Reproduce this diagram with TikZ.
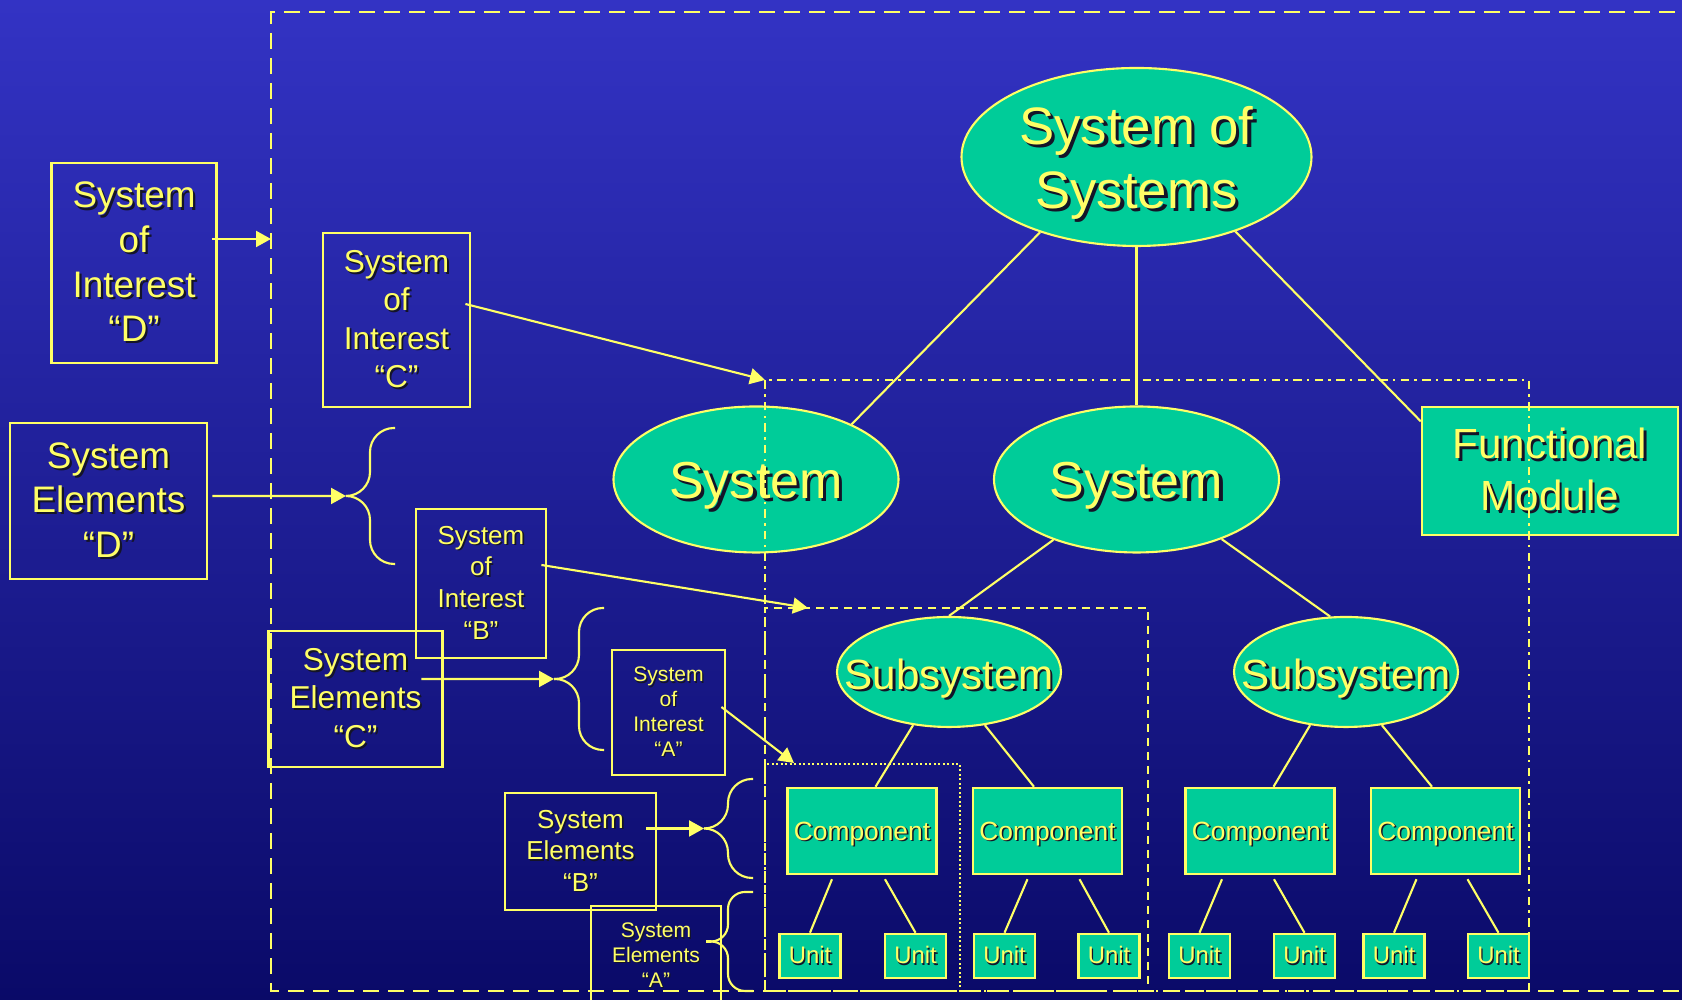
\documentclass[tikz,border=0pt]{standalone}
\usepackage{fontspec}
\setmainfont{Liberation Sans}
\usetikzlibrary{shapes.geometric,arrows.meta}

\definecolor{bgtop}{RGB}{51,51,196}
\definecolor{bgbottom}{RGB}{10,10,104}
\definecolor{leaf}{RGB}{0,204,153}
\definecolor{chalk}{RGB}{255,255,102}
\definecolor{dropc}{RGB}{20,20,40}

% text with a small dark drop shadow
\newcommand\shd[1]{\rlap{\kern.06em\raisebox{-.06em}{\color{dropc}#1}}#1}

\tikzset{
  bubble/.style={ % green ellipse of a system level
    ellipse, draw=chalk, line width=0.6pt, fill=leaf, inner sep=0pt
  },
  capt/.style={ % caption laid over a bubble
    align=center, text=chalk, inner sep=0pt, yshift=-0.75mm
  },
  block/.style={ % green box: module, component, unit
    rectangle, draw=chalk, line width=0.7pt, fill=leaf,
    inner sep=0pt, text=chalk, align=center
  },
  tag/.style={ % open yellow frame holding a caption
    rectangle, draw=chalk, line width=0.8pt,
    inner sep=0pt, text=chalk, align=center
  },
  tagD/.style={tag, font={\fontsize{10.5}{12.7}\selectfont}},
  tagC/.style={tag, font={\fontsize{9}{10.9}\selectfont}},
  tagB/.style={tag, font={\fontsize{7.4}{9}\selectfont}},
  tagA/.style={tag, font={\fontsize{6}{7.1}\selectfont}},
  compbox/.style={block, minimum width=1.49cm, minimum height=0.86cm,
    text depth=0pt, font={\fontsize{7.5}{9}\selectfont}},
  unitbox/.style={block, minimum width=0.61cm, minimum height=0.44cm,
    font={\fontsize{6.8}{8}\selectfont}},
  link/.style={draw=chalk, line width=0.6pt},
  pointer/.style={link, -{Triangle[length=1.5mm,width=1.6mm]}},
  grp/.style={link, rounded corners=2.4mm}, % one half of a curly brace
  outerzone/.style={draw=chalk, line width=0.6pt, dash pattern=on 1.6mm off 0.9mm},
  syszone/.style={draw=chalk, line width=0.6pt,
    dash pattern=on 0.85mm off 0.5mm on 0.25mm off 0.55mm},
  subzone/.style={draw=chalk, line width=0.6pt, dash pattern=on 0.8mm off 0.6mm},
  compzone/.style={draw=chalk, line width=0.6pt, dash pattern=on 0.2mm off 0.25mm}
}

\begin{document}
\begin{tikzpicture}
  \useasboundingbox (0,0) rectangle (16.82,10);
  \clip (0,0) rectangle (16.82,10);
  \shade[top color=bgtop, bottom color=bgbottom] (0,0) rectangle (16.82,10);

  % the tree
  \node[bubble, minimum width=3.5cm, minimum height=1.78cm,
    label={[capt, font={\fontsize{15}{18.2}\selectfont}]center:{\shd{System of}\\\shd{Systems}}}]
    (sos) at (11.365,8.43) {};
  \node[bubble, minimum width=2.85cm, minimum height=1.46cm,
    label={[capt, font={\fontsize{14.8}{17}\selectfont}]center:\shd{System}}]
    (sysA) at (7.56,5.205) {};
  \node[bubble, minimum width=2.85cm, minimum height=1.46cm,
    label={[capt, font={\fontsize{14.8}{17}\selectfont}]center:\shd{System}}]
    (sysB) at (11.365,5.205) {};
  \node[block, minimum width=2.56cm, minimum height=1.28cm,
    font={\fontsize{12}{14.7}\selectfont}] (fm) at (15.50,5.29) {\shd{Functional}\\\shd{Module}};
  \node[bubble, minimum width=2.24cm, minimum height=1.10cm,
    label={[capt, font={\fontsize{12}{14}\selectfont}]center:\shd{Subsystem}}]
    (subA) at (9.49,3.28) {};
  \node[bubble, minimum width=2.24cm, minimum height=1.10cm,
    label={[capt, font={\fontsize{12}{14}\selectfont}]center:\shd{Subsystem}}]
    (subB) at (13.46,3.28) {};

  \node[compbox] (comA) at (8.62,1.69) {\shd{Component}};
  \node[compbox] (comB) at (10.475,1.69) {\shd{Component}};
  \node[compbox] (comC) at (12.60,1.69) {\shd{Component}};
  \node[compbox] (comD) at (14.455,1.69) {\shd{Component}};

  \node[unitbox] (unA) at (8.10,0.44) {\shd{Unit}};
  \node[unitbox] (unB) at (9.155,0.44) {\shd{Unit}};
  \node[unitbox] (unC) at (10.045,0.44) {\shd{Unit}};
  \node[unitbox] (unD) at (11.09,0.44) {\shd{Unit}};
  \node[unitbox] (unE) at (11.995,0.44) {\shd{Unit}};
  \node[unitbox] (unF) at (13.045,0.44) {\shd{Unit}};
  \node[unitbox] (unG) at (13.94,0.44) {\shd{Unit}};
  \node[unitbox] (unH) at (14.985,0.44) {\shd{Unit}};

  \draw[link] (sos.218) -- (sysA.30);
  \draw[link] (sos.south) -- (sysB.north);
  \draw[link] (sos.323) -- (fm.159);
  \draw[link] (sysB.216) -- (subA.north);
  \draw[link] (sysB.325) -- (subB.106);
  \draw[link] (subA.236) -- (comA.73);
  \draw[link] (subA.304) -- (comB.107);
  \draw[link] (subB.236) -- (comC.73);
  \draw[link] (subB.304) -- (comD.107);
  \draw[link] ([xshift=-3mm,yshift=-.4mm]comA.south) -- (unA.north);
  \draw[link] ([xshift=2.3mm,yshift=-.4mm]comA.south) -- (unB.north);
  \draw[link] ([xshift=-2mm,yshift=-.4mm]comB.south) -- (unC.north);
  \draw[link] ([xshift=3.2mm,yshift=-.4mm]comB.south) -- (unD.north);
  \draw[link] ([xshift=-3.8mm,yshift=-.4mm]comC.south) -- (unE.north);
  \draw[link] ([xshift=1.4mm,yshift=-.4mm]comC.south) -- (unF.north);
  \draw[link] ([xshift=-2.9mm,yshift=-.4mm]comD.south) -- (unG.north);
  \draw[link] ([xshift=2.2mm,yshift=-.4mm]comD.south) -- (unH.north);

  % nested boundaries
  \draw[outerzone] (17,9.88) -| (2.71,0.09) -- (17,0.09);
  \draw[syszone] (7.65,0.09) rectangle (15.29,6.20);
  \draw[subzone] (7.65,0.09) rectangle (11.48,3.92);
  \draw[compzone] (7.65,0.09) rectangle (9.60,2.36);

  \coordinate (outerW) at (2.71,7.61);
  \coordinate (sysNW) at (7.65,6.20);
  \coordinate (subN) at (8.08,3.92);
  \coordinate (compN) at (7.94,2.37);
  \coordinate (tipD) at (3.46,5.04);
  \coordinate (tipC) at (5.54,3.21);
  \coordinate (tipB) at (7.04,1.715);
  \coordinate (tipA) at (7.11,0.585);

  % braces, drawn in halves
  \draw[grp] (3.95,5.72) -| (3.70,5.04) -- (tipD);
  \draw[grp] (3.95,4.36) -| (3.70,5.04) -- (tipD);
  \draw[grp] (6.04,3.92) -| (5.79,3.21) -- (tipC);
  \draw[grp] (6.04,2.50) -| (5.79,3.21) -- (tipC);
  \draw[grp] (7.53,2.21) -| (7.28,1.715) -- (tipB);
  \draw[grp] (7.53,1.22) -| (7.28,1.715) -- (tipB);
  \draw[grp, rounded corners=1.7mm] (7.53,1.08) -| (7.28,0.585) -- (tipA);
  \draw[grp, rounded corners=1.7mm] (7.53,0.09) -| (7.28,0.585) -- (tipA);

  % captions on the left
  \node[tagD, minimum width=1.654cm, minimum height=2.0cm] (soiD) at (1.341,7.37)
    {\shd{System}\\\shd{of}\\\shd{Interest}\\\shd{“D”}};
  \node[tagC, minimum width=1.47cm, minimum height=1.74cm] (soiC) at (3.965,6.80)
    {\shd{System}\\\shd{of}\\\shd{Interest}\\\shd{“C”}};
  \node[tagD, minimum width=1.97cm, minimum height=1.56cm] (seD) at (1.085,4.99)
    {\shd{System}\\\shd{Elements}\\\shd{“D”}};
  \node[tagB, minimum width=1.30cm, minimum height=1.49cm] (soiB) at (4.81,4.165)
    {\shd{System}\\\shd{of}\\\shd{Interest}\\\shd{“B”}};
  \node[tagC, minimum width=1.74cm, minimum height=1.36cm] (seC) at (3.555,3.01)
    {\shd{System}\\\shd{Elements}\\\shd{“C”}};
  \node[tagA, minimum width=1.13cm, minimum height=1.25cm] (soiA) at (6.685,2.875)
    {\shd{System}\\\shd{of}\\\shd{Interest}\\\shd{“A”}};
  \node[tagB, minimum width=1.51cm, minimum height=1.17cm] (seB) at (5.805,1.485)
    {\shd{System}\\\shd{Elements}\\\shd{“B”}};
  \node[tagA, minimum width=1.30cm, minimum height=1.0cm] (seA) at (6.56,0.44)
    {\shd{System}\\\shd{Elements}\\\shd{“A”}};

  \draw[pointer] ([shift={(-0.06,0.24)}]soiD.east) -- (outerW);
  \draw[pointer] ([shift={(-0.06,0.16)}]soiC.east) -- (sysNW);
  \draw[pointer] ([shift={(-0.06,0.185)}]soiB.east) -- (subN);
  \draw[pointer] ([shift={(-0.05,0.055)}]soiA.east) -- (compN);
  \draw[pointer] ([shift={(0.04,0.05)}]seD.east) -- (tipD);
  \draw[pointer] ([shift={(-0.225,0.2)}]seC.east) -- (tipC);
  \draw[pointer] ([shift={(-0.11,0.23)}]seB.east) -- (tipB);
  \draw[link] ([shift={(-0.16,0.145)}]seA.east) -- (tipA);
\end{tikzpicture}
\end{document}
